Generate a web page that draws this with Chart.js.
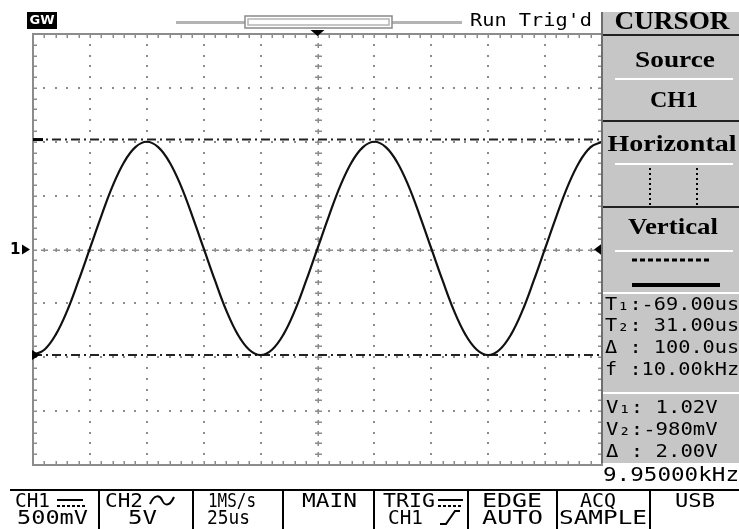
<!DOCTYPE html>
<html>
<head>
<meta charset="utf-8">
<script src="https://cdn.jsdelivr.net/npm/chart.js@4"></script>
<style>
  html, body { margin: 0; padding: 0; background: #fff; }
  canvas { display: block; }
</style>
</head>
<body>
<canvas id="scope" width="739" height="529"></canvas>
<script>
// sample times (us) and CH1 voltage
const timeUs = [0, 5, 10, 15, 20, 25, 30, 35, 40, 45, 50, 55, 60, 65, 70, 75, 80, 85, 90, 95,
    100, 105, 110, 115, 120, 125, 130, 135, 140, 145, 150, 155, 160, 165, 170, 175, 180, 185, 190, 195,
    200, 205, 210, 215, 220, 225, 230, 235, 240, 245, 250];
const ch1Volts = [-0.98, -0.93, -0.79, -0.57, -0.29, 0.01, 0.31, 0.59, 0.81, 0.95, 1.00, 0.95, 0.81, 0.59, 0.31, 0.01, -0.29, -0.57, -0.79, -0.93,
    -0.98, -0.93, -0.79, -0.57, -0.29, 0.01, 0.31, 0.59, 0.81, 0.95, 1.00, 0.95, 0.81, 0.59, 0.31, 0.01, -0.29, -0.57, -0.79, -0.93,
    -0.98, -0.93, -0.79, -0.57, -0.29, 0.01, 0.31, 0.59, 0.81, 0.95, 1.00];

// graticule: 10 x 25us, 8 x 500mV
const xTicks = [0, 25, 50, 75, 100, 125, 150, 175, 200, 225, 250];
const yTicks = [-2, -1.5, -1, -0.5, 0, 0.5, 1, 1.5, 2];

// cursors / markers
const cursorVolts = [1.02, -0.98];
const triggerTimeUs = 125;
const triggerLevelV = 0;
const groundV = 0;

// texts
const statusText = "Run Trig'd";
const timeRows = ['T₁:-69.00us', 'T₂: 31.00us', 'Δ : 100.0us', 'f :10.00kHz'];
const voltRows = ['V₁: 1.02V', 'V₂:-980mV', 'Δ : 2.00V'];
const freqText = '9.95000kHz';
const menuTop = ['CH1', 'CH2', '1MS/s', 'MAIN', 'TRIG', 'EDGE', 'ACQ', 'USB'];
const menuBottom = ['500mV', '5V', '25us', '', 'CH1', 'AUTO', 'SAMPLE', ''];

document.addEventListener('DOMContentLoaded', () => {
    const GRID = '#8c8c8c';
    const PANEL = '#c6c6c6';
    const MONO = '"DejaVu Sans Mono", monospace';
    const SERIF = '"Liberation Serif", "DejaVu Serif", serif';

    // monospace text with a fixed character pitch
    function monoText(ctx, text, x, y, size, pitch, align) {
        ctx.save();
        ctx.font = size + 'px ' + MONO;
        const sx = pitch / ctx.measureText('0').width;
        const w = text.length * pitch;
        const left = align === 'right' ? x - w : (align === 'center' ? x - w / 2 : x);
        ctx.translate(left, y);
        ctx.scale(sx, 1);
        ctx.textAlign = 'left';
        ctx.textBaseline = 'middle';
        ctx.fillText(text, 0, 0);
        ctx.restore();
    }

    // text squeezed/stretched to a given width
    function fitText(ctx, text, x, y, width, font, align) {
        ctx.save();
        ctx.font = font;
        const sx = width / ctx.measureText(text).width;
        const left = align === 'center' ? x - width / 2 : x;
        ctx.translate(left, y);
        ctx.scale(sx, 1);
        ctx.textAlign = 'left';
        ctx.textBaseline = 'middle';
        ctx.fillText(text, 0, 0);
        ctx.restore();
    }

    function line(ctx, x1, y1, x2, y2, color, w) {
        ctx.strokeStyle = color;
        ctx.lineWidth = w;
        ctx.beginPath();
        ctx.moveTo(x1, y1);
        ctx.lineTo(x2, y2);
        ctx.stroke();
    }

    /**
     * dotted graticule, drawn under the trace
     */
    const graticulePlugin = {
        id: 'graticule',
        beforeDatasetsDraw(chart) {
            const ctx = chart.ctx;
            const xs = chart.scales.x;
            const ys = chart.scales.y;
            const { left, right, top, bottom } = chart.chartArea;
            const xMinor = (xTicks[1] - xTicks[0]) / 5;
            const yMinor = (yTicks[1] - yTicks[0]) / 5;
            const nx = (xTicks.length - 1) * 5;
            const ny = (yTicks.length - 1) * 5;
            const xCenter = xTicks[(xTicks.length - 1) / 2];
            const yCenter = yTicks[(yTicks.length - 1) / 2];

            ctx.save();
            ctx.fillStyle = GRID;
            // vertical lines
            xTicks.slice(1, -1).forEach(t => {
                if (t === xCenter) return;
                const px = Math.round(xs.getPixelForValue(t));
                for (let j = 1; j < ny; j++) {
                    const py = Math.round(ys.getPixelForValue(yTicks[0] + j * yMinor));
                    ctx.fillRect(px - 1, py - 1, 2, 2);
                }
            });
            // horizontal lines
            yTicks.slice(1, -1).forEach(v => {
                if (v === yCenter) return;
                const py = Math.round(ys.getPixelForValue(v));
                for (let i = 1; i < nx; i++) {
                    const px = Math.round(xs.getPixelForValue(xTicks[0] + i * xMinor));
                    ctx.fillRect(px - 1, py - 1, 2, 2);
                }
            });
            // center axes with small crosses
            const cx = Math.round(xs.getPixelForValue(xCenter));
            const cy = Math.round(ys.getPixelForValue(yCenter));
            for (let j = 1; j < ny; j++) {
                const py = Math.round(ys.getPixelForValue(yTicks[0] + j * yMinor));
                ctx.fillRect(cx - 3, py - 0.5, 7, 1.5);
                ctx.fillRect(cx - 0.5, py - 2, 1.5, 5);
            }
            for (let i = 1; i < nx; i++) {
                const px = Math.round(xs.getPixelForValue(xTicks[0] + i * xMinor));
                ctx.fillRect(px - 3, cy - 0.5, 7, 1.5);
                ctx.fillRect(px - 0.5, cy - 2, 1.5, 4);
            }
            // border ticks
            for (let i = 1; i < nx; i++) {
                const px = Math.round(xs.getPixelForValue(xTicks[0] + i * xMinor));
                ctx.fillRect(px - 0.5, top, 1.5, 4);
                ctx.fillRect(px - 0.5, bottom - 4, 1.5, 4);
            }
            for (let j = 1; j < ny; j++) {
                const py = Math.round(ys.getPixelForValue(yTicks[0] + j * yMinor));
                ctx.fillRect(left, py - 0.5, 4, 1.5);
                ctx.fillRect(right - 4, py - 0.5, 4, 1.5);
            }
            ctx.restore();
        },
        afterDatasetsDraw(chart) {
            const ctx = chart.ctx;
            const xs = chart.scales.x;
            const ys = chart.scales.y;
            const { left, right, top, bottom } = chart.chartArea;
            ctx.save();
            // frame
            ctx.strokeStyle = GRID;
            ctx.lineWidth = 2;
            ctx.strokeRect(left, top, right - left, bottom - top);

            ctx.fillStyle = '#000';
            // trigger position
            const tx = xs.getPixelForValue(triggerTimeUs);
            ctx.beginPath();
            ctx.moveTo(tx - 7, top - 4);
            ctx.lineTo(tx + 7, top - 4);
            ctx.lineTo(tx, top + 2);
            ctx.closePath();
            ctx.fill();
            // trigger level
            const ty = ys.getPixelForValue(triggerLevelV);
            ctx.beginPath();
            ctx.moveTo(right, ty - 6);
            ctx.lineTo(right, ty + 6);
            ctx.lineTo(right - 8, ty);
            ctx.closePath();
            ctx.fill();
            // channel 1 ground marker
            const gy = ys.getPixelForValue(groundV);
            ctx.font = 'bold 15px ' + '"DejaVu Sans", sans-serif';
            ctx.textAlign = 'left';
            ctx.textBaseline = 'middle';
            ctx.fillText('1', 10, gy + 1);
            ctx.beginPath();
            ctx.moveTo(22, gy - 5);
            ctx.lineTo(22, gy + 5);
            ctx.lineTo(30, gy);
            ctx.closePath();
            ctx.fill();
            // active cursor marker
            const cy2 = ys.getPixelForValue(cursorVolts[1]);
            ctx.beginPath();
            ctx.moveTo(left - 1, cy2 - 5);
            ctx.lineTo(left - 1, cy2 + 5);
            ctx.lineTo(left + 7, cy2);
            ctx.closePath();
            ctx.fill();
            ctx.fillRect(left, ys.getPixelForValue(cursorVolts[0]) - 1.5, 10, 3);
            ctx.restore();
        }
    };

    /**
     * everything around the graticule: header, side menu, softkey bar
     */
    const screenPlugin = {
        id: 'screen',
        afterDraw(chart) {
            const ctx = chart.ctx;
            ctx.save();
            ctx.fillStyle = '#000';

            // GW logo
            ctx.fillRect(27, 12, 30, 17);
            ctx.fillStyle = '#fff';
            ctx.font = 'bold 13px "DejaVu Sans", sans-serif';
            ctx.textAlign = 'center';
            ctx.textBaseline = 'middle';
            ctx.fillText('GW', 42, 21);

            // memory bar
            line(ctx, 176, 22.5, 245, 22.5, '#b4b4b4', 3);
            line(ctx, 392, 22.5, 462, 22.5, '#b4b4b4', 3);
            ctx.strokeStyle = '#8a8a8a';
            ctx.lineWidth = 1.5;
            ctx.strokeRect(245, 16, 147, 12);
            ctx.strokeStyle = '#b4b4b4';
            ctx.strokeRect(248, 19, 141, 6);

            ctx.fillStyle = '#000';
            monoText(ctx, statusText, 470, 21, 18, 12.2, 'left');

            // side panel
            ctx.fillStyle = PANEL;
            ctx.fillRect(603, 12, 136, 451);
            line(ctx, 602, 12, 602, 463, '#6e6e6e', 2);
            line(ctx, 603, 35, 739, 35, '#222', 2);
            line(ctx, 603, 121, 739, 121, '#222', 2);
            line(ctx, 603, 207, 739, 207, '#222', 2);
            line(ctx, 615, 79, 733, 79, '#fff', 2);
            line(ctx, 615, 164, 733, 164, '#fff', 2);
            line(ctx, 615, 251, 733, 251, '#fff', 2);
            line(ctx, 603, 293, 739, 293, '#fff', 2);
            line(ctx, 603, 393, 739, 393, '#fff', 2);

            ctx.fillStyle = '#000';
            fitText(ctx, 'CURSOR', 672, 23, 115, 'bold 25px ' + SERIF, 'center');
            fitText(ctx, 'Source', 675, 61, 80, 'bold 23px ' + SERIF, 'center');
            fitText(ctx, 'CH1', 674, 101, 48, 'bold 23px ' + SERIF, 'center');
            fitText(ctx, 'Horizontal', 672, 145, 129, 'bold 23px ' + SERIF, 'center');
            fitText(ctx, 'Vertical', 673, 228, 90, 'bold 23px ' + SERIF, 'center');

            // horizontal cursor icon: two dotted verticals
            [650, 697].forEach(x => {
                for (let y = 168; y <= 203; y += 5) ctx.fillRect(x - 1, y, 2, 2);
            });
            // vertical cursor icon: dashed + solid
            for (let x = 632; x < 712; x += 8) ctx.fillRect(x, 258.5, 5, 3);
            ctx.fillRect(632, 283, 88, 4);

            timeRows.forEach((t, i) => monoText(ctx, t, 605, 305 + i * 21.7, 18, 12.2, 'left'));
            voltRows.forEach((t, i) => monoText(ctx, t, 606, 408 + i * 22.3, 18, 12.4, 'left'));

            // frequency counter
            monoText(ctx, freqText, 739, 476, 19, 13.6, 'right');

            // softkey bar
            line(ctx, 10, 490, 739, 490, '#000', 2);
            const seps = [99, 193, 283, 374, 468, 557, 650];
            seps.forEach(x => line(ctx, x, 490, x, 529, '#000', 2));

            const topPos = [[15, 35], [105, 38], [208, 48], [302, 55], [383, 52], [482, 60], [580, 36], [675, 40]];
            const botPos = [[17, 71], [128, 29], [207, 43], [0, 0], [388, 35], [482, 61], [559, 88], [0, 0]];
            ctx.fillStyle = '#000';
            menuTop.forEach((t, i) => {
                if (t) fitText(ctx, t, topPos[i][0], 502, topPos[i][1], '19px ' + MONO, 'left');
            });
            menuBottom.forEach((t, i) => {
                if (t) fitText(ctx, t, botPos[i][0], 519, botPos[i][1], '19px ' + MONO, 'left');
            });

            // coupling symbols (DC)
            [[57, 83], [438, 463]].forEach(([x1, x2]) => {
                line(ctx, x1, 500, x2, 500, '#000', 2);
                for (let x = x1; x < x2; x += 5) ctx.fillRect(x, 505, 3, 2);
            });
            // AC tilde
            ctx.strokeStyle = '#000';
            ctx.lineWidth = 2;
            ctx.beginPath();
            ctx.moveTo(150, 504);
            ctx.bezierCurveTo(155, 493, 160, 496, 162, 500);
            ctx.bezierCurveTo(164, 505, 169, 508, 174, 497);
            ctx.stroke();
            // rising edge
            ctx.beginPath();
            ctx.moveTo(440, 524);
            ctx.lineTo(446, 524);
            ctx.lineTo(455, 511);
            ctx.lineTo(460, 511);
            ctx.stroke();
            ctx.restore();
        }
    };

    const ctx = document.getElementById('scope').getContext('2d');

    new Chart(ctx, {
        type: 'line',
        data: {
            labels: timeUs,
            datasets: [
                {
                    data: timeUs.map((t, i) => ({ x: t, y: ch1Volts[i] })),
                    borderColor: '#111',
                    borderWidth: 2.2,
                    pointRadius: 0,
                    tension: 0.4
                },
                ...cursorVolts.map(v => ({
                    data: [{ x: xTicks[0], y: v }, { x: xTicks[xTicks.length - 1], y: v }],
                    borderColor: '#222',
                    borderWidth: 2,
                    borderDash: [9, 4, 2, 4],
                    pointRadius: 0
                }))
            ]
        },
        options: {
            responsive: false,
            animation: false,
            devicePixelRatio: 1,
            events: [],
            layout: { padding: { left: 33, top: 34, right: 137, bottom: 64 } },
            scales: {
                x: { type: 'linear', min: xTicks[0], max: xTicks[xTicks.length - 1], display: false },
                y: { min: yTicks[0], max: yTicks[yTicks.length - 1], display: false }
            },
            plugins: {
                legend: { display: false },
                tooltip: { enabled: false }
            }
        },
        plugins: [graticulePlugin, screenPlugin]
    });
});
</script>
</body>
</html>
